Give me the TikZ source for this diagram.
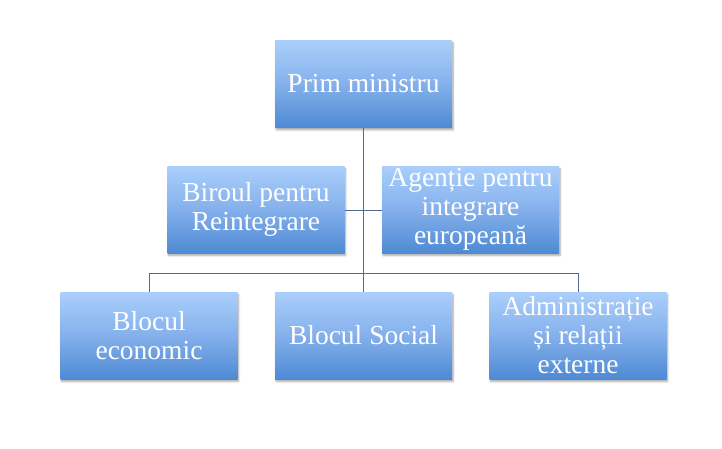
\documentclass[tikz,border=0pt]{standalone}
\usepackage{fontspec}
\setmainfont{Liberation Serif}
\usetikzlibrary{shadows.blur}
\definecolor{boxtop}{HTML}{ABCFFC}
\definecolor{boxmid}{HTML}{84B0EB}
\definecolor{boxbot}{HTML}{4E8AD4}
\definecolor{linecol}{HTML}{4F6A95}
\tikzset{
  orgbox/.style={rectangle, minimum width=177pt, minimum height=87pt, inner sep=2pt,
    top color=boxtop, bottom color=boxbot, middle color=boxmid,
    text=white, align=center,
    font=\fontsize{27.5}{29}\selectfont,
    blur shadow={shadow blur steps=6, shadow xshift=1pt, shadow yshift=-2.5pt, shadow opacity=35}},
  conn/.style={draw=linecol, line width=0.9pt}
}
\begin{document}
\begin{tikzpicture}[x=1pt,y=1pt]
\useasboundingbox (0,0) rectangle (722,448);
\node[orgbox] (pm) at (363.5,364) {Prim ministru};
\node[orgbox] (bir) at (256,238.5) {Biroul pentru\\Reintegrare};
\node[orgbox] (age) at (470.5,238.5) {Agenție pentru\\integrare\\europeană};
\node[orgbox] (eco) at (149,112.5) {Blocul\\economic};
\node[orgbox] (soc) at (363.5,112.5) {Blocul Social};
\node[orgbox] (adm) at (578,112.5) {Administrație\\și relații\\externe};
\coordinate (bus) at (363.5,175);
\coordinate (mid) at (363.5,238);
\draw[conn] (pm.south) -- (soc.north);
\draw[conn] (bir.east |- mid) -- (age.west |- mid);
\draw[conn] (eco.north) -- (eco.north |- bus) -- (adm.north |- bus) -- (adm.north);
\end{tikzpicture}
\end{document}
